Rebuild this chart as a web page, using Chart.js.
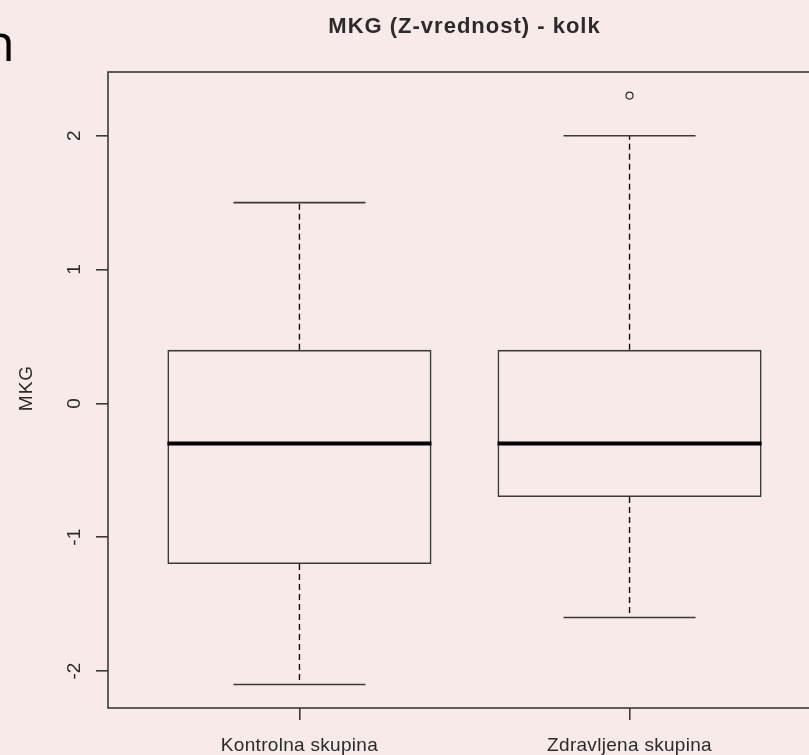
<!DOCTYPE html>
<html>
<head>
<meta charset="utf-8">
<script src="https://cdn.jsdelivr.net/npm/chart.js@4.4.1/dist/chart.umd.min.js"></script>
<style>
  html, body { margin: 0; padding: 0; background: #f8eae8; overflow: hidden; }
  #wrap { width: 809px; height: 755px; overflow: hidden; position: relative; }
  canvas { display: block; }
</style>
</head>
<body>
<div id="wrap"><canvas id="chart" width="830" height="755"></canvas></div>
<script>
// boxplot summary
const groups = ['Kontrolna skupina', 'Zdravljena skupina'];
const lowerWhisker = [-2.1, -1.6];
const q1 = [-1.2, -0.7];
const median = [-0.3, -0.3];
const q3 = [0.4, 0.4];
const upperWhisker = [1.5, 2.0];
const outliers = [{ group: 2, value: 2.3 }];
const yTicks = [-2, -1, 0, 1, 2];

const title = 'MKG (Z-vrednost) - kolk';
const yTitle = 'MKG';

const INK = '#2b2b2b';
const FRAME = '#3a3a3a';
const LABEL_FONT = '19px "Liberation Sans", Arial, sans-serif';

function drawText(ctx, text, x, y, font, rotate, spacing) {
  ctx.save();
  ctx.translate(x, y);
  if (rotate) ctx.rotate(-Math.PI / 2);
  ctx.font = font;
  if (spacing) ctx.letterSpacing = spacing;
  ctx.fillStyle = INK;
  ctx.textAlign = 'center';
  ctx.textBaseline = 'alphabetic';
  ctx.fillText(text, 0, 0);
  ctx.restore();
}

const boxPlugin = {
  id: 'boxParts',
  beforeDraw(chart) {
    const ctx = chart.ctx;
    ctx.save();
    ctx.fillStyle = '#f8eae8';
    ctx.fillRect(0, 0, chart.width, chart.height);
    ctx.restore();
  },
  beforeDatasetsDraw(chart) {
    const ctx = chart.ctx;
    const x = chart.scales.x;
    const y = chart.scales.y;
    const bars = chart.getDatasetMeta(0).data;
    ctx.save();
    groups.forEach((g, i) => {
      const cx = x.getPixelForValue(i + 1);
      const half = bars[i].width / 4;
      // whiskers
      ctx.strokeStyle = '#111';
      ctx.lineWidth = 1.4;
      ctx.setLineDash([6, 4]);
      ctx.beginPath();
      ctx.moveTo(cx, y.getPixelForValue(q3[i]));
      ctx.lineTo(cx, y.getPixelForValue(upperWhisker[i]));
      ctx.moveTo(cx, y.getPixelForValue(q1[i]));
      ctx.lineTo(cx, y.getPixelForValue(lowerWhisker[i]));
      ctx.stroke();
      // caps
      ctx.setLineDash([]);
      ctx.strokeStyle = FRAME;
      ctx.lineWidth = 1.6;
      ctx.beginPath();
      ctx.moveTo(cx - half, y.getPixelForValue(upperWhisker[i]));
      ctx.lineTo(cx + half, y.getPixelForValue(upperWhisker[i]));
      ctx.moveTo(cx - half, y.getPixelForValue(lowerWhisker[i]));
      ctx.lineTo(cx + half, y.getPixelForValue(lowerWhisker[i]));
      ctx.stroke();
    });
    ctx.restore();
  },
  afterDatasetsDraw(chart) {
    const ctx = chart.ctx;
    const x = chart.scales.x;
    const y = chart.scales.y;
    const bars = chart.getDatasetMeta(0).data;
    ctx.save();
    groups.forEach((g, i) => {
      const cx = x.getPixelForValue(i + 1);
      const half = bars[i].width / 2;
      const my = y.getPixelForValue(median[i]);
      ctx.strokeStyle = '#000';
      ctx.lineWidth = 4;
      ctx.beginPath();
      ctx.moveTo(cx - half, my);
      ctx.lineTo(cx + half, my);
      ctx.stroke();
    });
    ctx.restore();
  },
  afterDraw(chart) {
    const ctx = chart.ctx;
    const area = chart.chartArea;
    const x = chart.scales.x;
    const y = chart.scales.y;
    // frame
    ctx.save();
    ctx.strokeStyle = FRAME;
    ctx.lineWidth = 1.6;
    ctx.strokeRect(area.left, area.top, area.right - area.left, area.bottom - area.top);
    ctx.restore();
    // title
    drawText(ctx, title, (area.left + area.right) / 2, 33, 'bold 22px "Liberation Sans", Arial, sans-serif', false, '1px');
    // x labels
    groups.forEach((g, i) => {
      drawText(ctx, g, x.getPixelForValue(i + 1), 751, LABEL_FONT, false, '0.3px');
    });
    // y tick labels
    yTicks.forEach(v => {
      drawText(ctx, String(v), area.left - 28, y.getPixelForValue(v), LABEL_FONT, true);
    });
    // y title
    drawText(ctx, yTitle, 32, (area.top + area.bottom) / 2 - 2, LABEL_FONT, true, '1px');
    // stray letter at the top left corner
    ctx.save();
    ctx.font = '52px "Open Sans", sans-serif';
    ctx.fillStyle = '#000';
    ctx.textAlign = 'right';
    ctx.textBaseline = 'alphabetic';
    ctx.fillText('n', 15, 61);
    ctx.restore();
  }
};

new Chart(document.getElementById('chart'), {
  type: 'bar',
  data: {
    datasets: [
      {
        type: 'bar',
        data: groups.map((g, i) => ({ x: i + 1, y: [q1[i], q3[i]] })),
        backgroundColor: 'rgba(0,0,0,0)',
        borderColor: FRAME,
        borderWidth: 1.6,
        borderSkipped: false,
        categoryPercentage: 1,
        barPercentage: 0.8
      },
      {
        type: 'scatter',
        data: outliers.map(o => ({ x: o.group, y: o.value })),
        pointStyle: 'circle',
        pointRadius: 3.5,
        pointBorderWidth: 1.2,
        pointBorderColor: INK,
        pointBackgroundColor: 'rgba(0,0,0,0)'
      }
    ]
  },
  options: {
    responsive: false,
    animation: false,
    layout: { padding: { top: 72, right: 9, left: 0, bottom: 0 } },
    plugins: { legend: { display: false }, tooltip: { enabled: false } },
    scales: {
      x: {
        type: 'linear',
        offset: false,
        min: 0.42,
        max: 2.58,
        afterBuildTicks: s => { s.ticks = groups.map((g, i) => ({ value: i + 1 })); },
        afterFit: s => { s.height = 47; },
        ticks: { display: false },
        border: { display: false },
        grid: { offset: false, drawOnChartArea: false, drawTicks: true, tickLength: 12, color: FRAME, lineWidth: 1.6 }
      },
      y: {
        min: -2.276,
        max: 2.476,
        afterBuildTicks: s => { s.ticks = yTicks.map(v => ({ value: v })); },
        afterFit: s => { s.width = 108; },
        ticks: { display: false },
        border: { display: false },
        grid: { drawOnChartArea: false, drawTicks: true, tickLength: 12, color: FRAME, lineWidth: 1.6 }
      }
    }
  },
  plugins: [boxPlugin]
});
</script>
</body>
</html>
